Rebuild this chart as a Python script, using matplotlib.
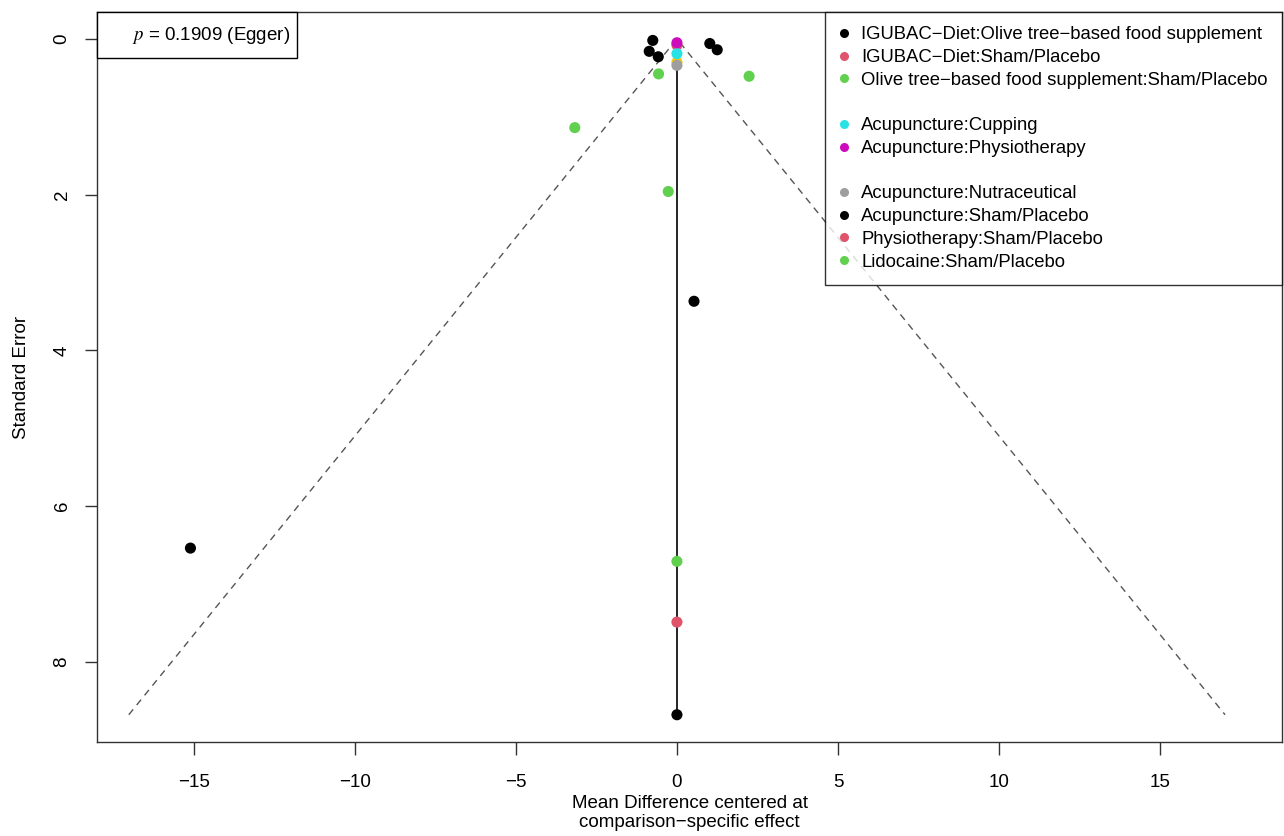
import matplotlib
matplotlib.use("Agg")
import matplotlib.pyplot as plt
from matplotlib.lines import Line2D
from matplotlib.patches import Rectangle

plt.rcParams['font.family'] = ['Liberation Sans', 'DejaVu Sans']
plt.rcParams['mathtext.fontset'] = 'stix'

# Comparisons (legend order; blank labels are comparisons without legend text)
comparisons = [
    "IGUBAC\u2212Diet:Olive tree\u2212based food supplement",
    "IGUBAC\u2212Diet:Sham/Placebo",
    "Olive tree\u2212based food supplement:Sham/Placebo",
    "",
    "Acupuncture:Cupping",
    "Acupuncture:Physiotherapy",
    "",
    "Acupuncture:Nutraceutical",
    "Acupuncture:Sham/Placebo",
    "Physiotherapy:Sham/Placebo",
    "Lidocaine:Sham/Placebo",
]
colors = ["#000000", "#DF536B", "#61D04F", "#2297E6", "#28E2E5", "#CD0BBC",
          "#F5C710", "#9E9E9E", "#000000", "#DF536B", "#61D04F"]

# Study points: centered mean difference, standard error, comparison index
pt_x = [-0.75, -0.86, -0.58, 1.02, 1.25,
        0.0,
        -0.57, 2.24, -3.17, -0.27,
        0.0,
        0.0,
        0.0,
        0.0,
        0.53, -15.1, 0.0,
        0.0,
        0.0]
pt_se = [0.02, 0.16, 0.23, 0.06, 0.14,
         0.08,
         0.45, 0.48, 1.14, 1.96,
         0.19,
         0.05,
         0.30,
         0.34,
         3.37, 6.54, 8.68,
         7.49,
         6.71]
pt_grp = [0, 0, 0, 0, 0,
          1,
          2, 2, 2, 2,
          4,
          5,
          6,
          7,
          8, 8, 8,
          9,
          10]

p_text = "0.1909"
FS = 13.5
LFS = 13.3

W, H = 1284, 836
fig = plt.figure(figsize=(W / 100, H / 100), dpi=100)
ax_l, ax_r, ax_t, ax_b = 97, 1282, 12, 742
ax = fig.add_axes([ax_l / W, 1 - ax_b / H, (ax_r - ax_l) / W, (ax_b - ax_t) / H])

se_max = max(pt_se)
ax.plot([-1.96 * se_max, 0, 1.96 * se_max], [se_max, 0, se_max],
        linestyle=(0, (5, 4)), color="#555555", lw=1.0, zorder=1)
ax.plot([0, 0], [0, se_max], color="black", lw=1.2, zorder=1)

draw_order = [5, 1, 4, 12, 13, 0, 2, 3, 6, 7, 8, 9, 10, 11, 14, 15, 16, 17, 18]
for i in draw_order:
    ax.scatter(pt_x[i], pt_se[i], s=64, color=colors[pt_grp[i]],
               edgecolors="none", zorder=3)

ax.set_xlim(-18.0, 18.78)
ax.set_ylim(9.03, -0.345)
ax.set_xticks([-15, -10, -5, 0, 5, 10, 15])
ax.set_xticklabels(["\u221215", "\u221210", "\u22125", "0", "5", "10", "15"])
ax.set_yticks([0, 2, 4, 6, 8])
for lab in ax.set_yticklabels(["0", "2", "4", "6", "8"]):
    lab.set_rotation(90)
    lab.set_va("center")
ax.tick_params(axis="both", labelsize=FS, length=9, width=1, color="#333333")
ax.tick_params(axis="x", pad=14)
ax.tick_params(axis="y", pad=10)
for s in ax.spines.values():
    s.set_linewidth(1.0)
    s.set_color("#333333")

ax.set_xlabel("Mean Difference centered at\ncomparison\u2212specific effect",
              fontsize=FS, labelpad=3, linespacing=1.15)
ax.set_ylabel("Standard Error", fontsize=FS, labelpad=17)

handles = [Line2D([], [], marker="o", linestyle="none", markersize=6.5,
                  color=c if lab else "none", markeredgecolor="none")
           for c, lab in zip(colors, comparisons)]
leg = ax.legend(handles, comparisons, loc="upper right", fontsize=LFS,
                frameon=True, fancybox=False, borderaxespad=0,
                handlelength=0.5, handletextpad=0.7, labelspacing=0.31,
                borderpad=0.78)
leg.get_frame().set_edgecolor("black")
leg.get_frame().set_linewidth(1.0)

# Egger p-value box in the top-left corner
ax_w, ax_h = ax_r - ax_l, ax_b - ax_t
box_w, box_h = 200 / ax_w, 46 / ax_h
ax.add_patch(Rectangle((0, 1 - box_h), box_w, box_h, transform=ax.transAxes,
                       fc="white", ec="black", lw=1.0, zorder=5, clip_on=False))
ax.text(box_w - 7 / ax_w, 1 - box_h / 2, r"$p$ = " + p_text + " (Egger)",
        transform=ax.transAxes, fontsize=FS, ha="right", va="center", zorder=6)

fig.savefig("out.png", dpi=100)
